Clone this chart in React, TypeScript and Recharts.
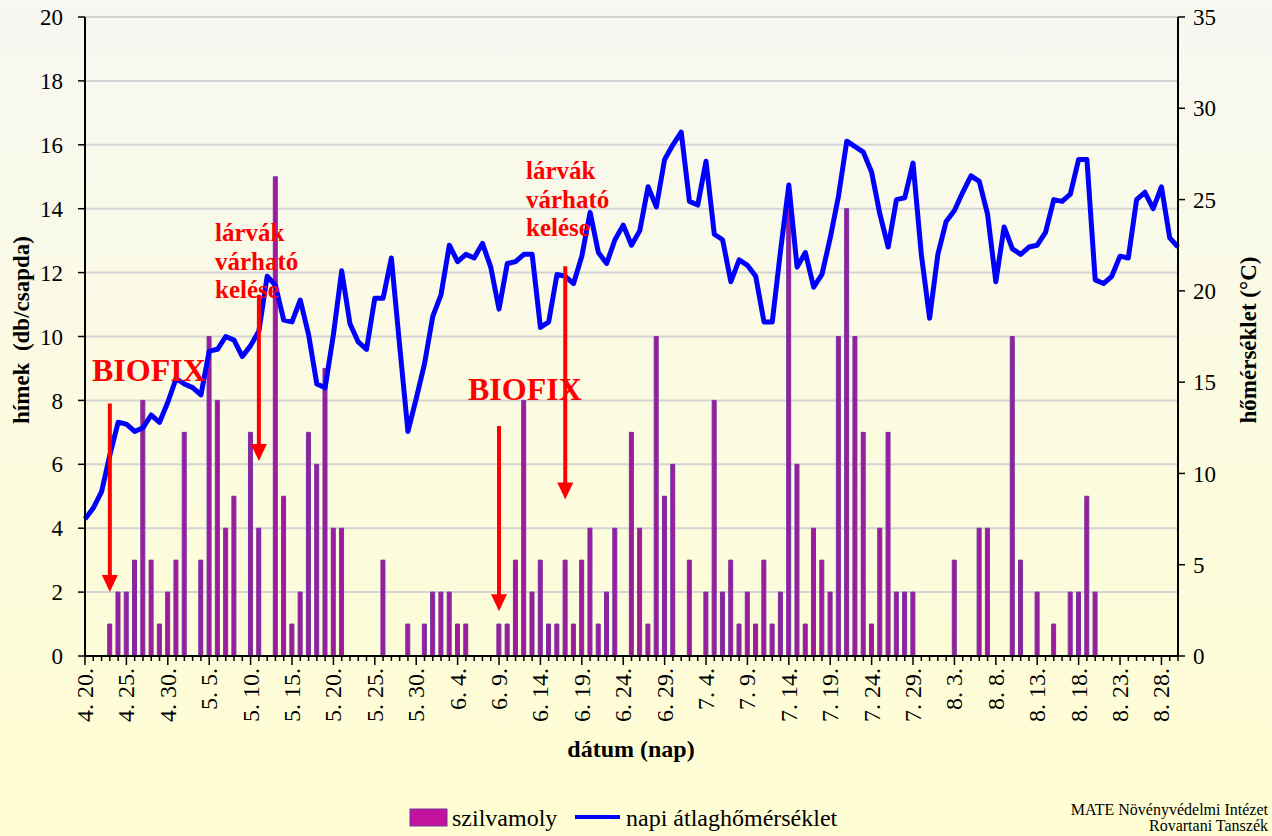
import React from 'react';
import { ComposedChart, Bar, Line, XAxis, YAxis, CartesianGrid, ReferenceLine } from 'recharts';

// days of the season, 4. 20. - 8. 30.
const MONTH_SPANS = [
  { month: 4, first: 20, last: 30 },
  { month: 5, first: 1, last: 31 },
  { month: 6, first: 1, last: 30 },
  { month: 7, first: 1, last: 31 },
  { month: 8, first: 1, last: 30 },
];

const dates: string[] = [];
MONTH_SPANS.forEach((s) => {
  for (let d = s.first; d <= s.last; d++) dates.push(`${s.month}. ${d}.`);
});

// szilvamoly catch per day (db/csapda)
const moths = [
  0, 0, 0, 1, 2, 2, 3, 8, 3, 1,
  2, 3, 7, 0, 3, 10, 8, 4, 5, 0,
  7, 4, 0, 15, 5, 1, 2, 7, 6, 9,
  4, 4, 0, 0, 0, 0, 3, 0, 0, 1,
  0, 1, 2, 2, 2, 1, 1, 0, 0, 0,
  1, 1, 3, 8, 2, 3, 1, 1, 3, 1,
  3, 4, 1, 2, 4, 0, 7, 4, 1, 10,
  5, 6, 0, 3, 0, 2, 8, 2, 3, 1,
  2, 1, 3, 1, 2, 14, 6, 1, 4, 3,
  2, 10, 14, 10, 7, 1, 4, 7, 2, 2,
  2, 0, 0, 0, 0, 3, 0, 0, 4, 4,
  0, 0, 10, 3, 0, 2, 0, 1, 0, 2,
  2, 5, 2, 0, 0, 0, 0, 0, 0, 0,
  0, 0, 0,
];

// napi átlaghőmérséklet (°C)
const temps = [
  7.5, 8.1, 9.0, 11.0, 12.8, 12.7, 12.3, 12.5, 13.2, 12.8,
  13.9, 15.2, 14.9, 14.7, 14.3, 16.7, 16.8, 17.5, 17.3, 16.4,
  17.0, 17.8, 20.8, 20.3, 18.4, 18.3, 19.5, 17.6, 14.9, 14.7,
  17.6, 21.1, 18.2, 17.2, 16.8, 19.6, 19.6, 21.8, 17.0, 12.3,
  14.1, 16.0, 18.6, 19.8, 22.5, 21.6, 22.0, 21.8, 22.6, 21.3,
  19.0, 21.5, 21.6, 22.0, 22.0, 18.0, 18.3, 20.9, 20.8, 20.4,
  21.9, 24.3, 22.1, 21.5, 22.8, 23.6, 22.5, 23.3, 25.7, 24.6,
  27.2, 28.0, 28.7, 24.9, 24.7, 27.1, 23.1, 22.8, 20.5, 21.7,
  21.4, 20.8, 18.3, 18.3, 22.2, 25.8, 21.3, 22.1, 20.2, 20.9,
  22.9, 25.2, 28.2, 27.9, 27.6, 26.5, 24.2, 22.4, 25.0, 25.1,
  27.0, 22.0, 18.5, 22.0, 23.8, 24.4, 25.4, 26.3, 26.0, 24.2,
  20.5, 23.5, 22.3, 22.0, 22.4, 22.5, 23.2, 25.0, 24.9, 25.3,
  27.2, 27.2, 20.6, 20.4, 20.8, 21.9, 21.8, 25.0, 25.4, 24.5,
  25.7, 22.9, 22.4,
];

const leftTicks = [0, 2, 4, 6, 8, 10, 12, 14, 16, 18, 20];
const rightTicks = [0, 5, 10, 15, 20, 25, 30, 35];

// red arrows (day, start value, tip value on the left axis)
const arrows = [
  { day: '4. 23.', from: 7.9, to: 2.0 },
  { day: '5. 11.', from: 11.3, to: 6.1 },
  { day: '6. 9.', from: 7.2, to: 1.4 },
  { day: '6. 17.', from: 12.2, to: 4.9 },
];

const data = dates.map((date, i) => ({
  date,
  moth: moths[i] || null,
  temp: temps[i],
}));

const FONT = '"Liberation Serif", "Times New Roman", serif';

const DateTick = (props: any) => {
  const { x, y, payload } = props;
  const index = props.index ?? payload.index;
  const major = index % 5 === 0;
  return (
    <g>
      <line x1={x} y1={y} x2={x} y2={y + (major ? 9 : 5)} stroke="#000" strokeWidth={1.5} />
      {major && (
        <text
          x={x}
          y={y + 12}
          transform={`rotate(-90 ${x} ${y + 12})`}
          textAnchor="end"
          dominantBaseline="central"
          fontFamily={FONT}
          fontSize={24}
          fill="#000"
        >
          {payload.value}
        </text>
      )}
    </g>
  );
};

const ArrowShape = (p: any) => {
  const { x1, y1, x2, y2 } = p;
  const head = 17;
  return (
    <g>
      <line x1={x1} y1={y1} x2={x2} y2={y2 - head + 2} stroke="#ff0000" strokeWidth={4} />
      <polygon points={`${x2 - 8},${y2 - head} ${x2 + 8},${y2 - head} ${x2},${y2}`} fill="#ff0000" />
    </g>
  );
};

const tickStyle = { fill: '#000', fontSize: 23, fontFamily: FONT };

export default function App() {
  return (
    <div
      style={{
        position: 'absolute',
        left: 0,
        top: 0,
        width: 1272,
        height: 836,
        overflow: 'hidden',
        background: 'linear-gradient(180deg, #f7f7f3 0%, #fbfbe2 45%, #fffdd2 100%)',
      }}
    >
      <ComposedChart
        width={1272}
        height={836}
        data={data}
        margin={{ top: 17, right: 34, bottom: 90, left: 40 }}
      >
        <CartesianGrid yAxisId="left" vertical={false} stroke="#d4d4d4" strokeWidth={2} />
        <XAxis
          dataKey="date"
          scale="point"
          interval={0}
          height={90}
          tickLine={false}
          tickSize={0}
          tickMargin={0}
          axisLine={{ stroke: '#000', strokeWidth: 2 }}
          tick={<DateTick />}
        />
        <YAxis
          yAxisId="left"
          domain={[0, 20]}
          ticks={leftTicks}
          width={45}
          tickSize={7}
          tickMargin={15}
          axisLine={{ stroke: '#000', strokeWidth: 2 }}
          tickLine={{ stroke: '#000', strokeWidth: 1.5 }}
          tick={tickStyle}
        />
        <YAxis
          yAxisId="right"
          orientation="right"
          domain={[0, 35]}
          ticks={rightTicks}
          width={60}
          tickSize={7}
          tickMargin={8}
          axisLine={{ stroke: '#000', strokeWidth: 2 }}
          tickLine={{ stroke: '#000', strokeWidth: 1.5 }}
          tick={{ ...tickStyle, textAnchor: 'start' }}
        />
        <Bar
          yAxisId="left"
          dataKey="moth"
          barSize={4}
          fill="#a01a9e"
          stroke="#7232a4"
          strokeWidth={1}
          isAnimationActive={false}
        />
        <Line
          yAxisId="right"
          dataKey="temp"
          type="linear"
          stroke="#0000ff"
          strokeWidth={5}
          strokeLinejoin="round"
          dot={false}
          activeDot={false}
          isAnimationActive={false}
        />
        {arrows.map((a) => (
          <ReferenceLine
            key={a.day}
            yAxisId="left"
            segment={[
              { x: a.day, y: a.from },
              { x: a.day, y: a.to },
            ]}
            shape={<ArrowShape />}
          />
        ))}
      </ComposedChart>

      <svg
        width={1272}
        height={836}
        style={{ position: 'absolute', left: 0, top: 0, pointerEvents: 'none' }}
        fontFamily={FONT}
      >
        {/* axis titles */}
        <text
          x={21}
          y={330}
          transform="rotate(-90 21 330)"
          textAnchor="middle"
          dominantBaseline="central"
          fontSize={23}
          fontWeight="bold"
          style={{ whiteSpace: 'pre' }}
        >
          {'hímek  (db/csapda)'}
        </text>
        <text
          x={1248}
          y={340}
          transform="rotate(-90 1248 340)"
          textAnchor="middle"
          dominantBaseline="central"
          fontSize={23}
          fontWeight="bold"
        >
          hőmérséklet (°C)
        </text>
        <text x={631} y={757} textAnchor="middle" fontSize={24} fontWeight="bold">
          dátum (nap)
        </text>

        {/* annotations */}
        <g fill="#ff0000" fontWeight="bold">
          <text x={92} y={381} fontSize={32}>BIOFIX</text>
          <text x={468} y={400} fontSize={32}>BIOFIX</text>
          <text fontSize={25}>
            <tspan x={215} y={241}>lárvák</tspan>
            <tspan x={215} y={270}>várható</tspan>
            <tspan x={215} y={298}>kelése</tspan>
          </text>
          <text fontSize={25}>
            <tspan x={526} y={179}>lárvák</tspan>
            <tspan x={526} y={208}>várható</tspan>
            <tspan x={526} y={236}>kelése</tspan>
          </text>
        </g>

        {/* legend */}
        <rect x={410} y={809} width={37} height={17} fill="#c2139e" stroke="#7232a4" strokeWidth={1} />
        <text x={452} y={826} fontSize={24}>szilvamoly</text>
        <line x1={575} y1={817} x2={620} y2={817} stroke="#0000ff" strokeWidth={4} />
        <text x={626} y={826} fontSize={24}>napi átlaghőmérséklet</text>

        {/* credit */}
        <text x={1268} y={815} textAnchor="end" fontSize={16}>MATE Növényvédelmi Intézet</text>
        <text x={1268} y={831} textAnchor="end" fontSize={16}>Rovartani Tanszék</text>
      </svg>
    </div>
  );
}
